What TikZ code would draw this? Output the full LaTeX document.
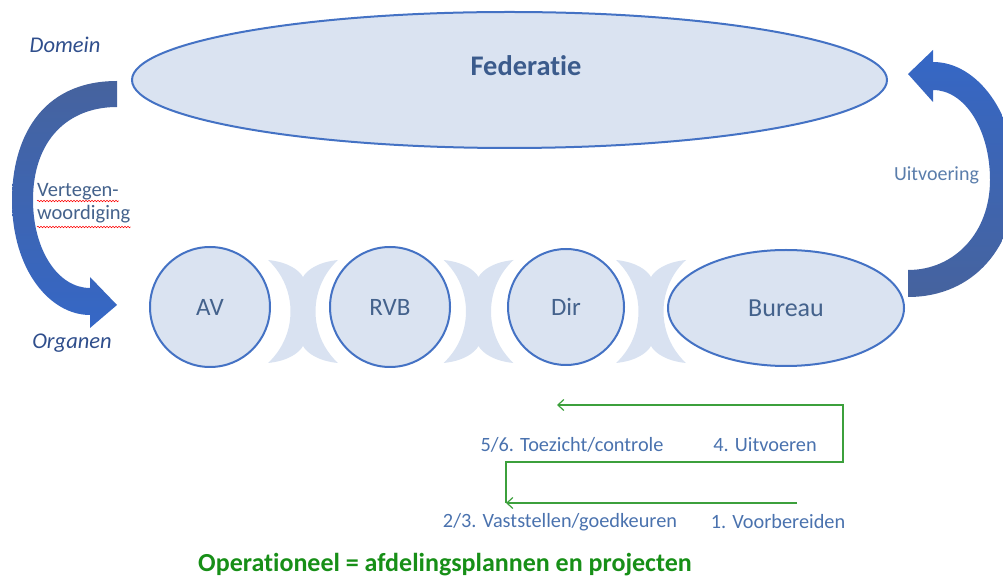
\documentclass[tikz,border=0pt]{standalone}
\usepackage{fontspec}
\setmainfont[Ligatures=NoCommon]{Carlito}
\usepackage{tikz}
\usetikzlibrary{positioning,shapes,arrows.meta,decorations.pathmorphing}

\definecolor{fillblue}{HTML}{DAE3F1}
\definecolor{lineblue}{HTML}{4472C4}
\definecolor{linkblue}{HTML}{D9E2F1}
\definecolor{textblue}{HTML}{44628C}
\definecolor{fedblue}{HTML}{3B5B8C}
\definecolor{darkarrow}{HTML}{46639E}
\definecolor{brightarrow}{HTML}{3567C6}
\definecolor{routegreen}{HTML}{3CA03C}
\definecolor{opgreen}{HTML}{178F17}
\definecolor{steptext}{HTML}{4A72AE}
\definecolor{sidetext}{HTML}{2F4E8C}
\definecolor{uitvtext}{HTML}{5A7DAB}

\tikzset{
        organ/.style={circle, draw=lineblue, fill=fillblue, line width=2pt, inner sep=0pt, text=textblue, font=\fontsize{25}{30}\selectfont}, % the circles
        oval/.style={ellipse, draw=lineblue, fill=fillblue, line width=2pt, inner sep=0pt},
        side/.style={text=sidetext, font=\itshape\fontsize{22.5}{27}\selectfont},
        vert/.style={text=textblue, inner sep=0pt, font=\fontsize{20.5}{24}\selectfont},
        steplabel/.style={text=steptext, font=\fontsize{20.3}{24}\selectfont},
        route/.style={draw=routegreen, line width=1.2pt, -{Straight Barb[length=6pt,width=11pt]}},
        squiggle/.style={red, line width=0.5pt, decorate, decoration={snake, amplitude=0.8pt, segment length=3pt}},
}

\begin{document}
\begin{tikzpicture}[x=1pt,y=1pt]
\useasboundingbox (0,0) rectangle (1003,581);

% links between the organs
\foreach \cx in {303,478.5,651} {
  \fill[linkblue] (\cx-35,321) .. controls (\cx-15,319) and (\cx-4,311) .. (\cx,304) .. controls (\cx+4,311) and (\cx+15,319) .. (\cx+35,321)
    arc[start angle=132.8,end angle=227.2,radius=70.2pt]
    .. controls (\cx+15,220) and (\cx+4,228) .. (\cx,235) .. controls (\cx-4,228) and (\cx-15,220) .. (\cx-35,218)
    arc[start angle=-47.2,end angle=47.2,radius=70.2pt] -- cycle;
}

\node[oval, minimum width=755pt, minimum height=136pt] (fed) at (509.5,501) {};
\node[text=fedblue, font=\bfseries\fontsize{28.4}{34}\selectfont] (fedtext) at (526,515) {Federatie};

\node[organ, minimum size=120pt] (av) at (210,274) {AV};
\node[organ, minimum size=120pt] (rvb) at (390,274) {RVB};
\node[organ, minimum size=116pt] (dir) at (566,274) {Dir};
\node[oval, minimum width=236pt, minimum height=116pt, text=textblue, font=\fontsize{26}{30}\selectfont] (bureau) at (786,273) {Bureau};

% curved arrows
\shade[top color=darkarrow, bottom color=brightarrow] (117,500) .. controls (40,500) and (12,441) .. (12,381) .. controls (12,311) and (50,266) .. (90,266) -- (90,253) -- (117,276) -- (90,304) -- (90,293) .. controls (58,293) and (33,331) .. (33,381) .. controls (33,441) and (68,474) .. (117,474) -- cycle;
\shade[top color=brightarrow, bottom color=darkarrow] (908,284) .. controls (975,284) and (1016,336) .. (1016,401) .. controls (1016,466) and (978,519) .. (933,519) -- (933,531) -- (908,507) -- (933,479) -- (933,491) .. controls (965,491) and (990,451) .. (990,401) .. controls (990,349) and (955,311) .. (908,311) -- cycle;

\node[side] (domein) at (65,536) {Domein};
\node[side] (organen) at (72,238) {Organen};
\node[vert, anchor=base west] (vert1) at (37,384) {Vertegen-};
\node[vert, anchor=base west] (vert2) at (37,361) {woordiging};
\draw[squiggle] ([yshift=-4pt]vert1.base west) -- ([yshift=-4pt]vert1.base east);
\draw[squiggle] ([yshift=-7pt]vert2.base west) -- ([yshift=-7pt]vert2.base east);
\node[text=uitvtext, font=\fontsize{20}{24}\selectfont] (uitv) at (936.5,406) {Uitvoering};

% green route
\coordinate (pA) at (797,78);
\coordinate (pB) at (506,78);
\coordinate (pC) at (506,119);
\coordinate (pD) at (843,119);
\coordinate (pE) at (843,176);
\coordinate (pF) at (557,176);
\draw[route] (pA) -- (pB);
\draw[route] (pB) -- (pC) -- (pD) -- (pE) -- (pF);

\node[steplabel] (s56) at (572,136) {5/6. Toezicht/controle};
\node[steplabel] (s4) at (765,136) {4. Uitvoeren};
\node[steplabel] (s23) at (560,59) {2/3. Vaststellen/goedkeuren};
\node[steplabel] (s1) at (778,59) {1. Voorbereiden};

\node[text=opgreen, font=\bfseries\fontsize{26}{30}\selectfont] (oper) at (445,16) {Operationeel = afdelingsplannen en projecten};

\end{tikzpicture}
\end{document}
